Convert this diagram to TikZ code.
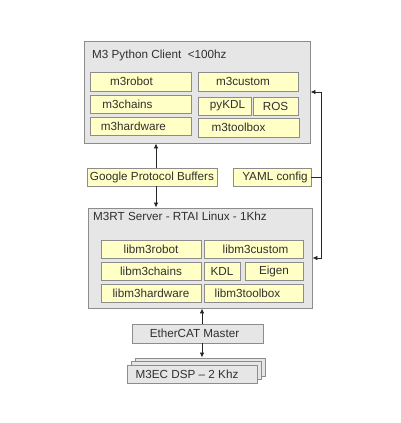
\documentclass[tikz,border=0pt]{standalone}
\usepackage{fontspec}
\setmainfont{Liberation Sans}
\usetikzlibrary{arrows.meta}
\definecolor{boxgray}{HTML}{E6E6E6}
\definecolor{edgegray}{HTML}{8C8C8C}
\definecolor{libyellow}{HTML}{FFFFC6}
\definecolor{txt}{HTML}{303030}
\begin{document}
\begin{tikzpicture}[x=1pt,y=-1pt, font=\fontsize{11.7}{14}\selectfont, text=txt,
  outbox/.style={draw=edgegray, fill=boxgray, line width=0.9pt, inner sep=0pt},
  libbox/.style={draw=edgegray, fill=libyellow, line width=0.8pt, inner sep=0pt},
  lbl/.style={text=txt, inner sep=0pt},
  arr/.style={draw=black!85, line width=0.8pt, -{Latex[length=5pt,width=4.5pt]}},
  link/.style={draw=black!85, line width=0.8pt}]
\useasboundingbox (0,0) rectangle (400,423);
\fill[white] (0,0) rectangle (400,423);

% Python client
\node[outbox, minimum width=226, minimum height=102] (py) at (197,92) {};
\node[lbl, anchor=west] (pyt) at (92,55) {M3 Python Client\ \ <100hz};
\node[libbox, minimum width=101, minimum height=19, label={[lbl,xshift=-9pt]center:m3robot}] (m3robot) at (140.5,81.5) {};
\node[libbox, minimum width=100, minimum height=19, label={[lbl,xshift=-5pt]center:m3custom}] (m3custom) at (248,81.5) {};
\node[libbox, minimum width=101, minimum height=18, label={[lbl,xshift=-13pt]center:m3chains}] (m3chains) at (140.5,104) {};
\node[libbox, minimum width=53, minimum height=18, label={[lbl,xshift=3pt]center:pyKDL}] (pykdl) at (224.5,106) {};
\node[libbox, minimum width=45, minimum height=18, label={[lbl]center:ROS}] (ros) at (275.5,106) {};
\node[libbox, minimum width=101, minimum height=18, label={[lbl,xshift=-7pt]center:m3hardware}] (m3hw) at (140.5,126) {};
\node[libbox, minimum width=101, minimum height=19, label={[lbl,xshift=-10pt]center:m3toolbox}] (m3tb) at (248.5,127.5) {};

% middle
\node[libbox, minimum width=130, minimum height=18, label={[lbl]center:Google Protocol Buffers}] (gpb) at (152,177) {};
\node[libbox, minimum width=78, minimum height=18, label={[lbl,xshift=3pt]center:YAML config}] (yaml) at (272,177) {};

% Server
\node[outbox, minimum width=224, minimum height=100] (srv) at (200,258) {};
\node[lbl, anchor=west] (srvt) at (93,216) {M3RT Server - RTAI Linux - 1Khz};
\node[libbox, minimum width=100, minimum height=18, label={[lbl]center:libm3robot}] (lrobot) at (151,249) {};
\node[libbox, minimum width=99, minimum height=18, label={[lbl,xshift=2pt]center:libm3custom}] (lcustom) at (253.5,249) {};
\node[libbox, minimum width=100, minimum height=18, label={[lbl]center:libm3chains}] (lchains) at (151,271) {};
\node[libbox, minimum width=36, minimum height=18, label={[lbl]center:KDL}] (kdl) at (222,271) {};
\node[libbox, minimum width=58, minimum height=18, label={[lbl]center:Eigen}] (eigen) at (274,271) {};
\node[libbox, minimum width=100, minimum height=18, label={[lbl]center:libm3hardware}] (lhw) at (151,293) {};
\node[libbox, minimum width=99, minimum height=18, label={[lbl,xshift=-6pt]center:libm3toolbox}] (ltb) at (253.5,293) {};

% EtherCAT and DSP stack
\node[outbox, minimum width=131, minimum height=19, label={[lbl,xshift=-3pt]center:EtherCAT Master}] (eth) at (197.5,333.5) {};
\node[outbox, minimum width=130, minimum height=18] (dsp3) at (200,367) {};
\node[outbox, minimum width=130, minimum height=18] (dsp2) at (196,370.5) {};
\node[outbox, minimum width=130, minimum height=18, label={[lbl,xshift=-5pt]center:M3EC DSP – 2 Khz}] (dsp1) at (192,374) {};

% connectors
\draw[arr] ([xshift=4pt]gpb.north) -- ([xshift=4pt]gpb.north |- py.south);
\draw[arr] ([xshift=4pt]gpb.south) -- ([xshift=4pt]gpb.south |- srv.north);
\coordinate (yc) at (321,177);
\draw[link] (yaml.east) -- (yc);
\draw[arr] (yc) |- (py.east);
\draw[arr] (yc) |- (srv.east);
\draw[arr] ([xshift=4.5pt]eth.north) -- ([xshift=4.5pt]eth.north |- srv.south);
\draw[arr] ([xshift=4.5pt]eth.south) -- ([xshift=4.5pt]eth.south |- dsp3.north);
\end{tikzpicture}
\end{document}
